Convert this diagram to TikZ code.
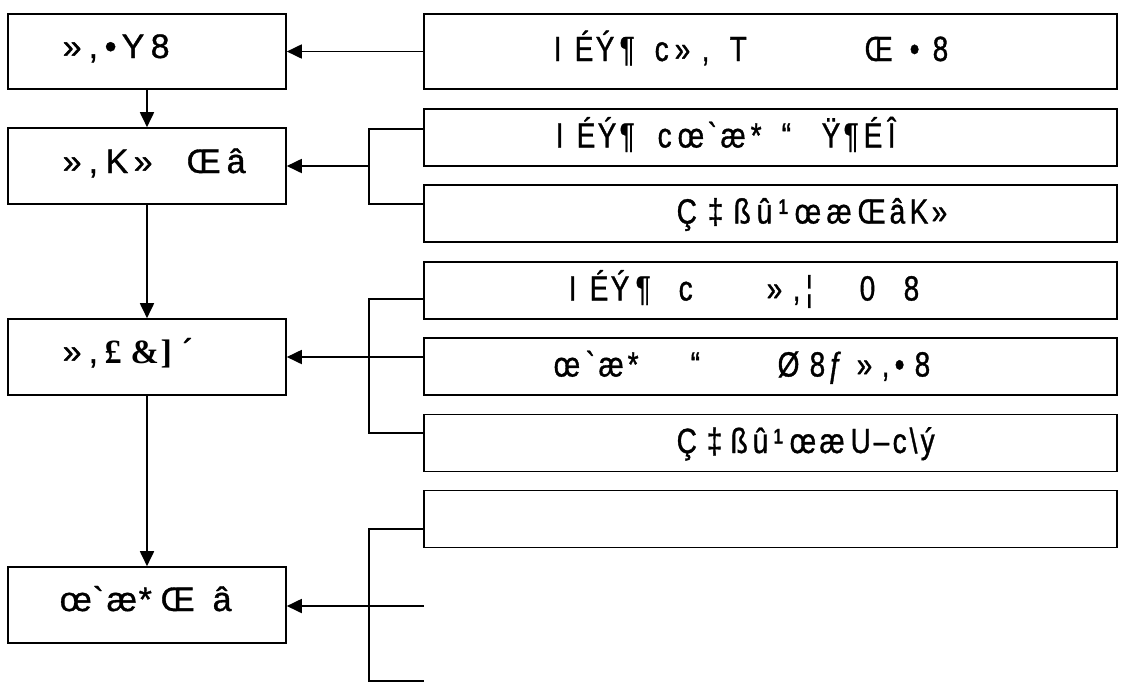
\documentclass[tikz,border=0pt]{standalone}
\usepackage{fontspec}
\setmainfont{Liberation Sans}
\newfontfamily\lfont[FakeBold=1]{Liberation Sans}
\newfontfamily\rfont[FakeStretch=0.8,FakeBold=1]{Liberation Sans}
\newfontfamily\serfont{Liberation Serif}
\usetikzlibrary{arrows.meta}
\newcommand\ch[2]{\makebox[0pt][l]{\hspace{#1pt}#2}\ignorespaces}
\begin{document}
\begin{tikzpicture}[x=1pt,y=-1pt,
  lbox/.style={draw,line width=1.6pt,minimum width=278pt,minimum height=76pt,inner sep=0pt},
  rbox/.style={draw,line width=1.6pt,minimum width=693pt,minimum height=57pt,inner sep=0pt},
  ltxt/.style={anchor=base west,inner sep=0pt,font=\lfont\fontsize{34}{34}\selectfont},
  rtxt/.style={anchor=base west,inner sep=0pt,font=\rfont\fontsize{35}{35}\selectfont},
  wire/.style={line width=1.3pt},
  arr/.style={line width=1.8pt,-{Triangle[length=15pt,width=14pt]}}]
\useasboundingbox (0,0) rectangle (1121,686);
% left column
\node[lbox,minimum height=75pt] (L1) at (147,51.5) {};
\node[lbox] (L2) at (147,166) {};
\node[lbox] (L3) at (147,357) {};
\node[lbox] (L4) at (147,605) {};
% right column
\node[rbox,minimum height=75pt] (R1) at (770.5,51.5) {};
\node[rbox] (R2) at (770.5,137.5) {};
\node[rbox] (R3) at (770.5,213.5) {};
\node[rbox] (R4) at (770.5,290.5) {};
\node[rbox] (R5) at (770.5,366.5) {};
\node[rbox] (R6) at (770.5,443) {};
\node[rbox] (R7) at (770.5,519) {};
% left texts
\node[ltxt] (T1) at (0,58) {\ch{62}{»} \ch{88}{,} \ch{104}{•} \ch{121}{Y} \ch{150}{8}};
\node[ltxt] (T2) at (0,173) {\ch{62}{»} \ch{88}{,} \ch{105}{K} \ch{133}{»} \ch{186}{Œ} \ch{226}{â}};
\node[ltxt] (T3) at (0,363) {\ch{62}{»} \ch{88}{,} \ch{104}{\serfont\bfseries £} \ch{130}{\serfont\bfseries \&} \ch{160}{\serfont\bfseries ]} \ch{182}{´}};
\node[ltxt] (T4) at (0,611) {\ch{59}{œ} \ch{92}{\symbol{96}} \ch{106}{æ} \ch{138}{*} \ch{160}{Œ} \ch{212}{â}};
% right texts
\node[rtxt] (S1) at (0,61) {\ch{553}{I} \ch{574}{É} \ch{595}{Ý} \ch{619}{¶} \ch{654}{c} \ch{674}{»} \ch{701}{,} \ch{729}{T} \ch{864}{Œ} \ch{909}{•} \ch{932}{8}};
\node[rtxt] (S2) at (0,147.5) {\ch{555}{I} \ch{576}{É} \ch{597}{Ý} \ch{619}{¶} \ch{657}{c} \ch{677}{œ} \ch{707}{\symbol{96}} \ch{720}{æ} \ch{750}{*} \ch{781}{“} \ch{821}{Ÿ} \ch{843}{¶} \ch{863}{É} \ch{887}{Î}};
\node[rtxt] (S3) at (0,223.5) {\ch{676}{Ç} \ch{707}{‡} \ch{733}{ß} \ch{756}{û} \ch{778}{¹} \ch{794}{œ} \ch{826}{æ} \ch{857}{Œ} \ch{889}{â} \ch{909}{K} \ch{931}{»}};
\node[rtxt] (S4) at (0,300.5) {\ch{568}{I} \ch{589}{É} \ch{610}{Ý} \ch{635}{¶} \ch{678}{c} \ch{766}{»} \ch{792}{,} \ch{805}{¦} \ch{859}{0} \ch{903}{8}};
\node[rtxt] (S5) at (0,376.5) {\ch{553}{œ} \ch{585}{\symbol{96}} \ch{598}{æ} \ch{627}{*} \ch{690}{“} \ch{777}{Ø} \ch{809}{8} \ch{827}{ƒ} \ch{856}{»} \ch{881}{,} \ch{894}{•} \ch{914}{8}};
\node[rtxt] (S6) at (0,453) {\ch{676}{Ç} \ch{706}{‡} \ch{730}{ß} \ch{752}{û} \ch{773}{¹} \ch{789}{œ} \ch{819}{æ} \ch{850}{U} \ch{873}{–} \ch{892}{c} \ch{909}{\textbackslash} \ch{920}{ý}};
% vertical flow
\draw[arr] (L1.south) -- (L2.north);
\draw[arr] (L2.south) -- (L3.north);
\draw[arr] (L3.south) -- (L4.north);
% group 1
\draw[arr] (R1.west) -- (L1.east);
% group 2
\coordinate (a2) at (369,129);
\coordinate (m2) at (369,166);
\coordinate (b2) at (369,204);
\draw[wire] (R2.west |- a2) -- (a2) -- (b2) -- (R3.west |- b2);
\draw[arr] (m2) -- (L2.east |- m2);
% group 3
\coordinate (a3) at (369,299);
\coordinate (m3) at (369,357);
\coordinate (b3) at (369,433);
\draw[wire] (R4.west |- a3) -- (a3) -- (b3) -- (R6.west |- b3);
\draw[wire] (R5.west |- m3) -- (m3);
\draw[arr] (m3) -- (L3.east |- m3);
% group 4
\coordinate (a4) at (369,529);
\coordinate (m4) at (369,606);
\coordinate (b4) at (369,681);
\coordinate (e4m) at (424,606);
\coordinate (e4b) at (424,681);
\draw[wire] (R7.west |- a4) -- (a4) -- (b4) -- (e4b);
\draw[wire] (e4m) -- (m4);
\draw[arr] (m4) -- (L4.east |- m4);
\end{tikzpicture}
\end{document}
